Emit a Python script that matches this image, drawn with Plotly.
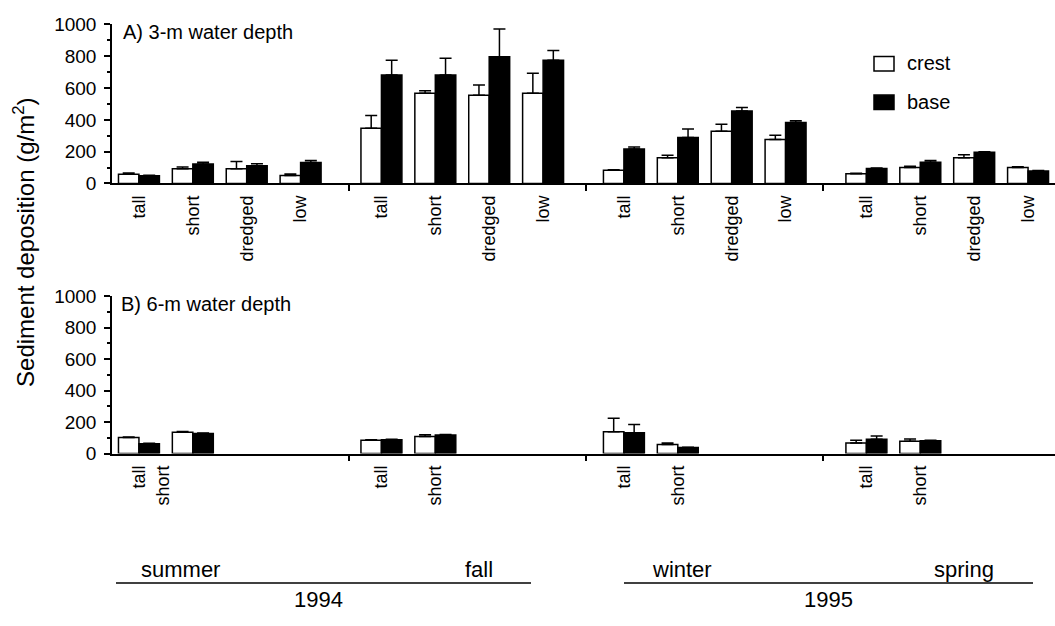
import plotly.graph_objects as go

# ---- data -------------------------------------------------------------
seasons = ["summer", "fall", "winter", "spring"]
years = ["1994", "1995"]
sites_3m = ["tall", "short", "dredged", "low"]
sites_6m = ["tall", "short"]

# A) 3-m water depth, season by season (tall, short, dredged, low)
crest_3m = [58, 92, 92, 50, 347, 567, 555, 567, 84, 162, 328, 276, 61, 101, 162, 101]
crest_3m_err = [8, 12, 46, 9, 80, 16, 64, 127, 3, 15, 45, 28, 4, 8, 18, 5]
base_3m = [48, 122, 112, 132, 682, 682, 797, 775, 217, 290, 456, 383, 95, 133, 196, 79]
base_3m_err = [4, 12, 12, 12, 93, 105, 175, 62, 12, 52, 22, 12, 3, 12, 3, 3]

# B) 6-m water depth, season by season (tall, short)
crest_6m = [102, 136, 85, 108, 138, 57, 67, 79]
crest_6m_err = [4, 4, 3, 12, 86, 10, 18, 14]
base_6m = [63, 128, 88, 118, 132, 39, 91, 81]
base_6m_err = [2, 2, 3, 4, 53, 2, 21, 3]

# ---- layout constants --------------------------------------------------
W, H = 1055, 626
FONT = "Liberation Sans, Arial, Helvetica, sans-serif"
X_LEFT = 112 / W          # paper x of the y axes
GROUP_STEP = 4.5          # season spacing in category slots
X_MAX = 17.5
SEASON_TICKS = [4.4, 8.8, 13.2]


def py(px):
    """pixel row -> paper y"""
    return 1 - px / H


def px_x(px):
    return px / W


def centres(n_sites):
    return [0.5 + k + GROUP_STEP * g for g in range(len(seasons)) for k in range(n_sites)]


xa = centres(len(sites_3m))
xb = centres(len(sites_6m))
labels_a = sites_3m * len(seasons)
labels_b = sites_6m * len(seasons)
# summer labels of the deep site sit squeezed together
label_pos_b = list(xb)
label_pos_b[1] = xb[1] - 0.55


def err(vals):
    return dict(type="data", array=vals, arrayminus=[0] * len(vals), symmetric=False,
                color="black", thickness=1.5, width=6)


fig = go.Figure()
fig.add_bar(x=xa, y=crest_3m, name="crest", error_y=err(crest_3m_err),
            marker=dict(color="white", line=dict(color="black", width=1.5)),
            xaxis="x", yaxis="y")
fig.add_bar(x=xa, y=base_3m, name="base", error_y=err(base_3m_err),
            marker=dict(color="black", line=dict(color="black", width=1.5)),
            xaxis="x", yaxis="y")
fig.add_bar(x=xb, y=crest_6m, name="crest", error_y=err(crest_6m_err),
            marker=dict(color="white", line=dict(color="black", width=1.5)),
            xaxis="x2", yaxis="y2")
fig.add_bar(x=xb, y=base_6m, name="base", error_y=err(base_6m_err),
            marker=dict(color="black", line=dict(color="black", width=1.5)),
            xaxis="x2", yaxis="y2")


def xaxis(anchor, tickvals, ticktext):
    return dict(domain=[X_LEFT, 1], range=[0, X_MAX], anchor=anchor,
                showline=True, linecolor="black", linewidth=1.5,
                showgrid=False, zeroline=False,
                tickmode="array", tickvals=tickvals, ticktext=ticktext,
                ticks="", tickangle=-90, ticklabelstandoff=3,
                tickfont=dict(family=FONT, size=18, color="black"),
                minor=dict(tickmode="array", tickvals=SEASON_TICKS, ticks="outside",
                           ticklen=6, tickwidth=1.5, tickcolor="black", showgrid=False))


def yaxis(anchor, top_px, zero_px):
    return dict(domain=[py(zero_px), py(top_px)], range=[0, 1000], anchor=anchor,
                showline=True, linecolor="black", linewidth=1.5,
                showgrid=False, zeroline=False,
                tickmode="linear", tick0=0, dtick=200,
                ticks="outside", ticklen=6, tickwidth=1.5, tickcolor="black",
                ticklabelstandoff=4,
                tickfont=dict(family=FONT, size=19, color="black"),
                minor=dict(dtick=100, ticks="outside", ticklen=3, tickwidth=1.5,
                           tickcolor="black", showgrid=False))


annotations = [
    dict(text="A) 3-m water depth", x=px_x(121), y=py(23), xanchor="left", yanchor="middle",
         font=dict(family=FONT, size=20, color="black")),
    dict(text="B) 6-m water depth", x=px_x(119), y=py(304), xanchor="left", yanchor="middle",
         font=dict(family=FONT, size=20, color="black")),
    dict(text="Sediment deposition (g/m<sup>2</sup>)", x=px_x(24), y=py(240), textangle=-90,
         xanchor="center", yanchor="middle", font=dict(family=FONT, size=24, color="black")),
    dict(text="crest", x=px_x(905), y=py(55), xanchor="left", yanchor="middle",
         font=dict(family=FONT, size=20, color="black")),
    dict(text="base", x=px_x(905), y=py(95), xanchor="left", yanchor="middle",
         font=dict(family=FONT, size=20, color="black")),
    dict(text=seasons[0], x=px_x(139), y=py(579), xanchor="left", yanchor="middle",
         font=dict(family=FONT, size=22, color="black")),
    dict(text=seasons[1], x=px_x(495), y=py(579), xanchor="right", yanchor="middle",
         font=dict(family=FONT, size=22, color="black")),
    dict(text=seasons[2], x=px_x(650), y=py(579), xanchor="left", yanchor="middle",
         font=dict(family=FONT, size=22, color="black")),
    dict(text=seasons[3], x=px_x(996), y=py(579), xanchor="right", yanchor="middle",
         font=dict(family=FONT, size=22, color="black")),
    dict(text=years[0], x=px_x(318), y=py(610), xanchor="center", yanchor="middle",
         font=dict(family=FONT, size=22, color="black")),
    dict(text=years[1], x=px_x(828), y=py(610), xanchor="center", yanchor="middle",
         font=dict(family=FONT, size=22, color="black")),
]
for a in annotations:
    a.update(xref="paper", yref="paper", showarrow=False)

shapes = [
    # legend keys
    dict(type="rect", x0=px_x(874), x1=px_x(894), y0=py(48), y1=py(63),
         fillcolor="white", line=dict(color="black", width=1.5)),
    dict(type="rect", x0=px_x(874), x1=px_x(894), y0=py(88), y1=py(103),
         fillcolor="black", line=dict(color="black", width=1.5)),
    # year rules
    dict(type="line", x0=px_x(116), x1=px_x(531), y0=py(593), y1=py(593),
         line=dict(color="black", width=1.5)),
    dict(type="line", x0=px_x(624), x1=px_x(1033), y0=py(593), y1=py(593),
         line=dict(color="black", width=1.5)),
]
for s in shapes:
    s.update(xref="paper", yref="paper")

fig.update_layout(
    width=W, height=H, autosize=False,
    margin=dict(l=0, r=0, t=0, b=0),
    paper_bgcolor="white", plot_bgcolor="white",
    barmode="group", bargap=0.24, bargroupgap=0,
    showlegend=False,
    font=dict(family=FONT, color="black"),
    xaxis=xaxis("y", xa, labels_a),
    yaxis=yaxis("x", 15, 179.5),
    xaxis2=xaxis("y2", label_pos_b, labels_b),
    yaxis2=yaxis("x2", 296, 459),
    annotations=annotations,
    shapes=shapes,
)

fig.write_html("out.html")
